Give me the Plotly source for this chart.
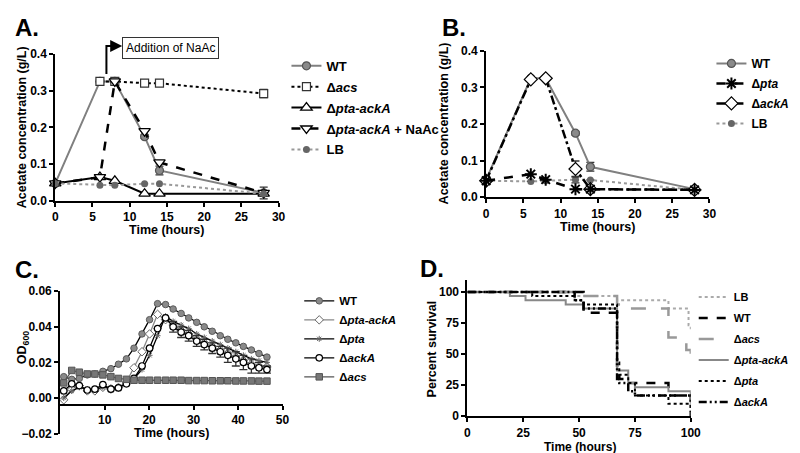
import plotly.graph_objects as go

# ---- panels A and B: acetate concentration (g/L) ----
time_ab = [0, 6, 8, 12, 14, 28]
wt_ac = [0.048, 0.325, 0.325, 0.175, 0.083, 0.022]
wt_ac_err = [0, 0, 0, 0.005, 0.012, 0]
acs_ac = [None, 0.325, 0.325, 0.320, 0.320, 0.292]
acs_ac_err = [0, 0, 0, 0, 0, 0.011]
ptaack_ac = [0.048, 0.065, 0.055, 0.020, 0.020, 0.020]
ptaack_naac = [0.048, 0.065, 0.325, 0.190, 0.105, 0.022]
ptaack_naac_err = [0, 0, 0, 0, 0, 0.016]
lb_ac_a = [0.048, 0.043, 0.043, 0.047, 0.047, 0.020]
pta_ac = [0.045, 0.063, 0.048, 0.022, 0.022, 0.020]
acka_ac = [0.045, 0.322, 0.325, 0.077, 0.022, 0.020]
acka_ac_err = [0, 0, 0, 0.022, 0, 0]
lb_ac_b = [0.045, 0.043, 0.045, 0.048, 0.047, 0.020]
lb_ac_b_err = [0, 0, 0, 0.009, 0, 0]

# ---- panel C: growth (OD600) ----
time_c = [0.8, 2.6, 4.3, 6.1, 7.8, 9.6, 11.4, 13.1, 14.9, 16.6, 18.4, 20.1, 21.9, 23.7,
          25.4, 27.2, 28.9, 30.7, 32.4, 34.2, 36.0, 37.7, 39.5, 41.2, 43.0, 44.7, 46.5]
wt_od = [0.012, 0.0105, 0.011, 0.013, 0.0135, 0.015, 0.0165, 0.019, 0.022, 0.028, 0.036, 0.044,
         0.053, 0.0525, 0.050, 0.0475, 0.045, 0.0425, 0.040, 0.0375, 0.035, 0.033, 0.031, 0.029,
         0.027, 0.025, 0.023]
ptaack_od = [-0.001, 0.005, 0.007, 0.004, 0.004, 0.006, 0.005, 0.006, 0.009, 0.017, 0.026, 0.036,
             0.047, 0.044, 0.041, 0.038, 0.036, 0.033, 0.031, 0.029, 0.027, 0.025, 0.023, 0.021,
             0.019, 0.018, 0.0175]
pta_od = [0.000, 0.004, 0.006, 0.005, 0.005, 0.006, 0.006, 0.006, 0.008, 0.011, 0.016, 0.024,
          0.035, 0.046, 0.043, 0.041, 0.039, 0.036, 0.034, 0.032, 0.030, 0.028, 0.026, 0.024,
          0.022, 0.021, 0.020]
acka_od = [0.004, 0.008, 0.007, 0.0045, 0.005, 0.0075, 0.005, 0.0057, 0.008, 0.011, 0.018, 0.028,
           0.039, 0.045, 0.040, 0.037, 0.035, 0.032, 0.030, 0.028, 0.026, 0.024, 0.022, 0.020,
           0.018, 0.017, 0.016]
acka_od_err = [0, 0, 0, 0, 0, 0, 0, 0, 0, 0, 0, 0, 0, 0, 0.003, 0.003, 0.003, 0.003, 0.003,
               0.003, 0.003, 0.004, 0.004, 0.004, 0.004, 0.003, 0.002]
acs_od = [0.0085, 0.0155, 0.0145, 0.0135, 0.0135, 0.013, 0.012, 0.011, 0.0105, 0.010, 0.010, 0.010,
          0.010, 0.010, 0.010, 0.010, 0.0098, 0.0098, 0.0098, 0.0097, 0.0097, 0.0097, 0.0096,
          0.0096, 0.0096, 0.0095, 0.0095]

# ---- panel D: survival (%) ----
lb_t = [0, 48, 67, 90, 99, 100]
lb_s = [100, 96.7, 93.3, 86.7, 73.3, 70]
wt_t = [0, 52, 67, 68, 72, 90, 100]
wt_s = [100, 83.3, 36.7, 30, 26.7, 16.7, 0]
acs_t = [0, 48, 67, 72, 90, 98, 100]
acs_s = [100, 96.7, 90, 86.7, 63.3, 53.3, 43.3]
ptaack_t = [0, 19, 26, 44, 52, 67, 72, 75, 90, 100]
ptaack_s = [100, 96.7, 93.3, 90, 86.7, 36.7, 26.7, 23.3, 20, 10]
pta_t = [0, 29, 48, 52, 67, 68, 72, 75, 90, 100]
pta_s = [100, 96.7, 93.3, 90, 43.3, 33.3, 26.7, 16.7, 10, 3.3]
acka_t = [0, 48, 52, 67, 68, 72, 75, 100]
acka_s = [100, 93.3, 86.7, 30, 26.7, 20, 16.7, 6.7]

W, H = 800, 453
FONT = "Liberation Sans, Arial, sans-serif"


def px(x):
    return x / W


def py(y):
    return 1 - y / H


def err(vals):
    return dict(type="data", array=vals, visible=True, color="#333", thickness=1.3, width=4)


fig = go.Figure()

# panel A
fig.add_trace(go.Scatter(x=time_ab, y=wt_ac, name="WT", mode="lines+markers", legendgroup="a1",
                         line=dict(color="#808080", width=2),
                         marker=dict(symbol="circle", size=8, color="#8a8a8a", line=dict(color="#555", width=1.2)),
                         error_y=err(wt_ac_err), xaxis="x", yaxis="y", legend="legend"))
fig.add_trace(go.Scatter(x=time_ab, y=acs_ac, name="Δ<i>acs</i>", mode="lines+markers", legendgroup="a2",
                         line=dict(color="black", width=2, dash="dot"),
                         marker=dict(symbol="square", size=8, color="white", line=dict(color="#333", width=1.2)),
                         error_y=err(acs_ac_err), xaxis="x", yaxis="y", legend="legend"))
fig.add_trace(go.Scatter(x=time_ab, y=ptaack_ac, name="Δ<i>pta-ackA</i>", mode="lines+markers", legendgroup="a3",
                         line=dict(color="black", width=2),
                         marker=dict(symbol="triangle-up", size=10, color="white", line=dict(color="black", width=1.3)),
                         xaxis="x", yaxis="y", legend="legend"))
fig.add_trace(go.Scatter(x=time_ab, y=ptaack_naac, name="Δ<i>pta-ackA</i> + NaAc", mode="lines+markers",
                         legendgroup="a4",
                         line=dict(color="black", width=2.5, dash="dash"),
                         marker=dict(symbol="triangle-down", size=10, color="white", line=dict(color="black", width=1.3)),
                         error_y=err(ptaack_naac_err), xaxis="x", yaxis="y", legend="legend"))
fig.add_trace(go.Scatter(x=time_ab, y=lb_ac_a, name="LB", mode="lines+markers", legendgroup="a5",
                         line=dict(color="#999", width=2, dash="dot"),
                         marker=dict(symbol="circle", size=7, color="#666"),
                         xaxis="x", yaxis="y", legend="legend"))

# panel B (asterisks drawn last, legend order kept by legendrank)
fig.add_trace(go.Scatter(x=time_ab, y=wt_ac, name="WT", mode="lines+markers", legendgroup="b1", legendrank=1,
                         line=dict(color="#808080", width=2),
                         marker=dict(symbol="circle", size=8, color="#8a8a8a", line=dict(color="#555", width=1.2)),
                         error_y=err(wt_ac_err), xaxis="x2", yaxis="y2", legend="legend2"))
fig.add_trace(go.Scatter(x=time_ab, y=lb_ac_b, name="LB", mode="lines+markers", legendgroup="b4", legendrank=4,
                         line=dict(color="#999", width=2, dash="dot"),
                         marker=dict(symbol="circle", size=7, color="#666"),
                         error_y=err(lb_ac_b_err), xaxis="x2", yaxis="y2", legend="legend2"))
fig.add_trace(go.Scatter(x=time_ab, y=acka_ac, name="Δ<i>ackA</i>", mode="lines+markers", legendgroup="b3",
                         legendrank=3,
                         line=dict(color="black", width=2.5, dash="dashdot"),
                         marker=dict(symbol="diamond", size=10, color="white", line=dict(color="black", width=1.2)),
                         error_y=err(acka_ac_err), xaxis="x2", yaxis="y2", legend="legend2"))
fig.add_trace(go.Scatter(x=time_ab, y=pta_ac, name="Δ<i>pta</i>", mode="lines+markers", legendgroup="b2",
                         legendrank=2,
                         line=dict(color="black", width=2.5, dash="dash"),
                         marker=dict(symbol="asterisk-open", size=10, color="black", line=dict(color="black", width=2)),
                         xaxis="x2", yaxis="y2", legend="legend2"))

# panel C
fig.add_trace(go.Scatter(x=time_c, y=wt_od, name="WT", mode="lines+markers", legendgroup="c1",
                         line=dict(color="black", width=1.3),
                         marker=dict(symbol="circle", size=6.5, color="#8a8a8a", line=dict(color="#5a5a5a", width=1)),
                         xaxis="x3", yaxis="y3", legend="legend3"))
fig.add_trace(go.Scatter(x=time_c, y=ptaack_od, name="Δ<i>pta-ackA</i>", mode="lines+markers", legendgroup="c2",
                         line=dict(color="#888", width=1.3),
                         marker=dict(symbol="diamond", size=6.5, color="white", line=dict(color="#666", width=1)),
                         xaxis="x3", yaxis="y3", legend="legend3"))
fig.add_trace(go.Scatter(x=time_c, y=pta_od, name="Δ<i>pta</i>", mode="lines+markers", legendgroup="c3",
                         line=dict(color="black", width=1.3),
                         marker=dict(symbol="asterisk-open", size=5, color="#666", line=dict(color="#666", width=1)),
                         xaxis="x3", yaxis="y3", legend="legend3"))
fig.add_trace(go.Scatter(x=time_c, y=acka_od, name="Δ<i>ackA</i>", mode="lines+markers", legendgroup="c4",
                         line=dict(color="black", width=1.3),
                         marker=dict(symbol="circle", size=6.5, color="white", line=dict(color="black", width=1.2)),
                         error_y=err(acka_od_err), xaxis="x3", yaxis="y3", legend="legend3"))
fig.add_trace(go.Scatter(x=time_c, y=acs_od, name="Δ<i>acs</i>", mode="lines+markers", legendgroup="c5",
                         line=dict(color="#555", width=1.3),
                         marker=dict(symbol="square", size=6.5, color="#777", line=dict(color="#555", width=1)),
                         xaxis="x3", yaxis="y3", legend="legend3"))

# panel D
surv = [
    (lb_t, lb_s, "LB", "#aaa", "dot", 2),
    (wt_t, wt_s, "WT", "black", "dash", 2.5),
    (acs_t, acs_s, "Δ<i>acs</i>", "#999", "longdash", 2.5),
    (ptaack_t, ptaack_s, "Δ<i>pta-ackA</i>", "#888", "solid", 2),
    (pta_t, pta_s, "Δ<i>pta</i>", "black", "dot", 2),
    (acka_t, acka_s, "Δ<i>ackA</i>", "black", "8px,3px,2px,3px,2px,3px", 2.5),
]
for i, (t, s, nm, col, dsh, lw) in enumerate(surv):
    fig.add_trace(go.Scatter(x=t, y=s, name=nm, mode="lines", line_shape="hv", legendgroup="d%d" % i,
                             line=dict(color=col, width=lw, dash=dsh),
                             xaxis="x4", yaxis="y4", legend="legend4"))

fig.update_traces(cliponaxis=False)

ax = dict(showline=True, linecolor="black", linewidth=2, ticks="outside", ticklen=4, tickwidth=2,
          tickcolor="black", showgrid=False, zeroline=False, tickfont=dict(size=12, color="black"))

fig.update_layout(
    width=W, height=H, margin=dict(l=0, r=0, t=0, b=0),
    paper_bgcolor="white", plot_bgcolor="white",
    font=dict(family=FONT, size=12, color="black", weight="bold"),
    xaxis=dict(ax, domain=[px(45), px(272)], range=[0, 30], tickvals=[0, 5, 10, 15, 20, 25, 30], anchor="y"),
    yaxis=dict(ax, domain=[py(192), py(40)], range=[0, 0.4], tickvals=[0, 0.1, 0.2, 0.3, 0.4],
               tickformat=".1f", anchor="x"),
    xaxis2=dict(ax, domain=[px(483), px(710)], range=[0, 30], tickvals=[0, 5, 10, 15, 20, 25, 30], anchor="y2"),
    yaxis2=dict(ax, domain=[py(188), py(37)], range=[0, 0.4], tickvals=[0, 0.1, 0.2, 0.3, 0.4],
                tickformat=".1f", anchor="x2"),
    xaxis3=dict(ax, domain=[px(50), px(276)], range=[0, 50], tickvals=[10, 20, 30, 40, 50],
                anchor="free", position=py(402)),
    yaxis3=dict(ax, domain=[py(432), py(285)], range=[-0.02, 0.06],
                tickvals=[-0.02, 0, 0.02, 0.04, 0.06], tickformat=".2f", anchor="x3"),
    xaxis4=dict(ax, domain=[px(464), px(691)], range=[0, 100], tickvals=[0, 25, 50, 75, 100], anchor="y4"),
    yaxis4=dict(ax, domain=[py(414), py(273)], range=[0, 110], tickvals=[0, 25, 50, 75, 100], anchor="x4"),
)

leg = dict(xanchor="left", yanchor="top", bgcolor="rgba(0,0,0,0)", traceorder="grouped")
fig.update_layout(
    legend=dict(leg, x=px(280), y=py(37), font=dict(size=13), tracegroupgap=1),
    legend2=dict(leg, x=px(712), y=py(35), font=dict(size=12), tracegroupgap=1),
    legend3=dict(leg, x=px(293), y=py(280), font=dict(size=11.5), tracegroupgap=0),
    legend4=dict(leg, x=px(694), y=py(276), font=dict(size=11), tracegroupgap=2),
)

annots = [
    dict(text="A.", x=px(2), y=py(13), font=dict(size=24)),
    dict(text="B.", x=px(436), y=py(13), font=dict(size=24)),
    dict(text="C.", x=px(2), y=py(263), font=dict(size=24)),
    dict(text="D.", x=px(414), y=py(262), font=dict(size=24)),
]
for a in annots:
    fig.add_annotation(a, xref="paper", yref="paper", xanchor="left", yanchor="middle", showarrow=False)

titles = [
    ("Time (hours)", px(158), py(222), 0, 12.5),
    ("Time (hours)", px(596), py(219), 0, 12.5),
    ("Time (hours)", px(163), py(431), 0, 12.5),
    ("Time (hours)", px(578), py(446), 0, 12),
    ("Acetate concentration (g/L)", px(12), py(116), -90, 12.5),
    ("Acetate concentration (g/L)", px(440), py(112), -90, 12.5),
    ("OD<sub>600</sub>", px(13), py(343), -90, 12.5),
    ("Percent survival", px(428), py(345), -90, 12.5),
]
for txt, x, y, ang, fs in titles:
    fig.add_annotation(text=txt, x=x, y=y, xref="paper", yref="paper", showarrow=False,
                       textangle=ang, font=dict(size=fs), xanchor="center", yanchor="middle")

# NaAc addition callout
fig.add_shape(type="path", xref="paper", yref="paper",
              path="M %f,%f L %f,%f L %f,%f" % (px(97), py(61), px(97), py(32), px(104), py(32)),
              line=dict(color="black", width=2))
fig.add_annotation(x=px(113), y=py(32), xref="paper", yref="paper", ax=-11, ay=0, text="",
                   showarrow=True, arrowhead=2, arrowsize=1.2, arrowwidth=2, arrowcolor="black")
fig.add_annotation(text="Addition of NaAc", x=px(113), y=py(34), xref="paper", yref="paper",
                   showarrow=False, bordercolor="#333", borderwidth=1, borderpad=3, bgcolor="white",
                   font=dict(size=12, weight="normal"), xanchor="left", yanchor="middle")

fig.write_html("out.html")
